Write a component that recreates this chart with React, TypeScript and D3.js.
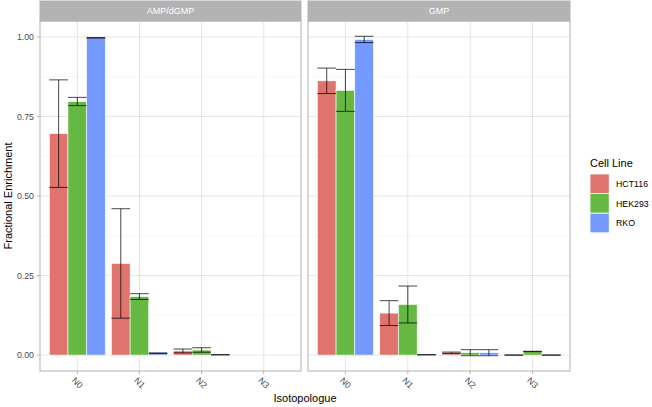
import React from "react";
import * as d3 from "d3";

const cellLines = ["HCT116", "HEK293", "RKO"];
const isotopologues = ["N0", "N1", "N2", "N3"];
const metabolites = ["AMP/dGMP", "GMP"];
const fillColors = ["#E0736E", "#67B843", "#7499FF"];
const yTicks = [0, 0.25, 0.5, 0.75, 1.0];
const yMinor = [0.125, 0.375, 0.625, 0.875];

// AMP/dGMP
const ampHCT116Mean = [0.696, 0.288, 0.013, NaN];
const ampHCT116Sd = [0.169, 0.172, 0.006, NaN];
const ampHEK293Mean = [0.797, 0.184, 0.016, NaN];
const ampHEK293Sd = [0.013, 0.009, 0.007, NaN];
const ampRKOMean = [0.997, 0.006, 0.001, NaN];
const ampRKOSd = [0.001, 0.001, 0.0005, NaN];
// GMP
const gmpHCT116Mean = [0.862, 0.132, 0.0075, 0];
const gmpHCT116Sd = [0.04, 0.039, 0.002, 0];
const gmpHEK293Mean = [0.832, 0.159, 0.0075, 0.0115];
const gmpHEK293Sd = [0.066, 0.058, 0.0095, 0.0005];
const gmpRKOMean = [0.992, 0.001, 0.0075, 0];
const gmpRKOSd = [0.01, 0.0005, 0.0095, 0];

const meansByPanel = [
  [ampHCT116Mean, ampHEK293Mean, ampRKOMean],
  [gmpHCT116Mean, gmpHEK293Mean, gmpRKOMean],
];
const sdsByPanel = [
  [ampHCT116Sd, ampHEK293Sd, ampRKOSd],
  [gmpHCT116Sd, gmpHEK293Sd, gmpRKOSd],
];

const W = 652;
const H = 407;
const FONT = "'Liberation Sans', Arial, Helvetica, sans-serif";
const panelX = [
  [40, 301],
  [308, 570],
];
const panelTop = 21;
const panelBottom = 371;
const stripTop = 1;

export default function App() {
  const y = d3.scaleLinear().domain([-0.05, 1.05]).range([panelBottom, panelTop]);
  const fmt = d3.format(".2f");

  return (
    <svg
      width={W}
      height={H}
      style={{ position: "absolute", left: 0, top: 0, background: "#fff" }}
      fontFamily={FONT}
    >
      {metabolites.map((met, pi) => {
        const [x0, x1] = panelX[pi];
        const x = d3.scalePoint<string>().domain(isotopologues).range([x0, x1]).padding(0.6);
        const step = x.step();
        const groupW = step * 0.9;
        const sub = d3.scaleBand<string>().domain(cellLines).range([-groupW / 2, groupW / 2]);
        const bw = sub.bandwidth();
        return (
          <g key={met}>
            {/* strip */}
            <rect x={x0} y={stripTop} width={x1 - x0} height={panelTop - stripTop} fill="#B3B3B3" stroke="#B3B3B3" />
            <text x={(x0 + x1) / 2} y={(stripTop + panelTop) / 2 + 3.2} textAnchor="middle" fill="#fff" fontSize={9}>
              {met}
            </text>
            {/* grid */}
            {yMinor.map((v) => (
              <line key={"mi" + v} x1={x0} x2={x1} y1={y(v)} y2={y(v)} stroke="#EFEFEF" strokeWidth={0.5} />
            ))}
            {yTicks.map((v) => (
              <line key={"ma" + v} x1={x0} x2={x1} y1={y(v)} y2={y(v)} stroke="#DEDEDE" strokeWidth={0.8} />
            ))}
            {isotopologues.map((c) => (
              <line key={"vx" + c} x1={x(c)} x2={x(c)} y1={panelTop} y2={panelBottom} stroke="#DEDEDE" strokeWidth={0.8} />
            ))}
            {/* bars */}
            {cellLines.map((cl, ci) =>
              isotopologues.map((iso, ii) => {
                const m = meansByPanel[pi][ci][ii];
                if (!isFinite(m)) return null;
                const bx = (x(iso) as number) + (sub(cl) as number);
                return (
                  <rect
                    key={cl + iso}
                    x={bx}
                    y={y(m)}
                    width={bw}
                    height={Math.max(0, y(0) - y(m))}
                    fill={fillColors[ci]}
                    stroke="#fff"
                    strokeWidth={0.6}
                  />
                );
              })
            )}
            {/* error bars */}
            {cellLines.map((cl, ci) =>
              isotopologues.map((iso, ii) => {
                const m = meansByPanel[pi][ci][ii];
                const s = sdsByPanel[pi][ci][ii];
                if (!isFinite(m) || !isFinite(s)) return null;
                const bx = (x(iso) as number) + (sub(cl) as number);
                const cx = bx + bw / 2;
                const yl = y(m - s);
                const yh = y(m + s);
                return (
                  <g key={"e" + cl + iso} stroke="#000" strokeOpacity={0.72} strokeWidth={1}>
                    <line x1={cx} x2={cx} y1={yh} y2={yl} />
                    <line x1={bx} x2={bx + bw} y1={yh} y2={yh} />
                    <line x1={bx} x2={bx + bw} y1={yl} y2={yl} />
                  </g>
                );
              })
            )}
            {/* border */}
            <rect x={x0} y={panelTop} width={x1 - x0} height={panelBottom - panelTop} fill="none" stroke="#B3B3B3" strokeWidth={1} />
            {/* x axis ticks & labels */}
            {isotopologues.map((c) => (
              <g key={"xt" + c}>
                <line x1={x(c)} x2={x(c)} y1={panelBottom} y2={panelBottom + 3} stroke="#B3B3B3" />
                <text
                  transform={`translate(${(x(c) as number) - 2},${panelBottom + 14}) rotate(45)`}
                  textAnchor="middle"
                  fontSize={8.8}
                  fill="#4D4D4D"
                >
                  {c}
                </text>
              </g>
            ))}
          </g>
        );
      })}
      {/* y axis */}
      {yTicks.map((v) => (
        <g key={"yt" + v}>
          <line x1={37} x2={40} y1={y(v)} y2={y(v)} stroke="#B3B3B3" />
          <text x={34} y={y(v) + 3.2} textAnchor="end" fontSize={8.8} fill="#4D4D4D">
            {fmt(v)}
          </text>
        </g>
      ))}
      {/* axis titles */}
      <text transform={`translate(12,${(panelTop + panelBottom) / 2}) rotate(-90)`} textAnchor="middle" fontSize={11} fill="#000">
        Fractional Enrichment
      </text>
      <text x={(panelX[0][0] + panelX[1][1]) / 2} y={402} textAnchor="middle" fontSize={11} fill="#000">
        Isotopologue
      </text>
      {/* legend */}
      <text x={590} y={166.5} fontSize={11} fill="#000">
        Cell Line
      </text>
      {cellLines.map((cl, i) => (
        <g key={"lg" + cl}>
          <rect x={590} y={174 + i * 19.6} width={19.2} height={19.6} fill={fillColors[i]} stroke="#fff" strokeWidth={0.8} />
          <text x={616} y={174 + i * 19.6 + 13} fontSize={8.8} fill="#000">
            {cl}
          </text>
        </g>
      ))}
    </svg>
  );
}
